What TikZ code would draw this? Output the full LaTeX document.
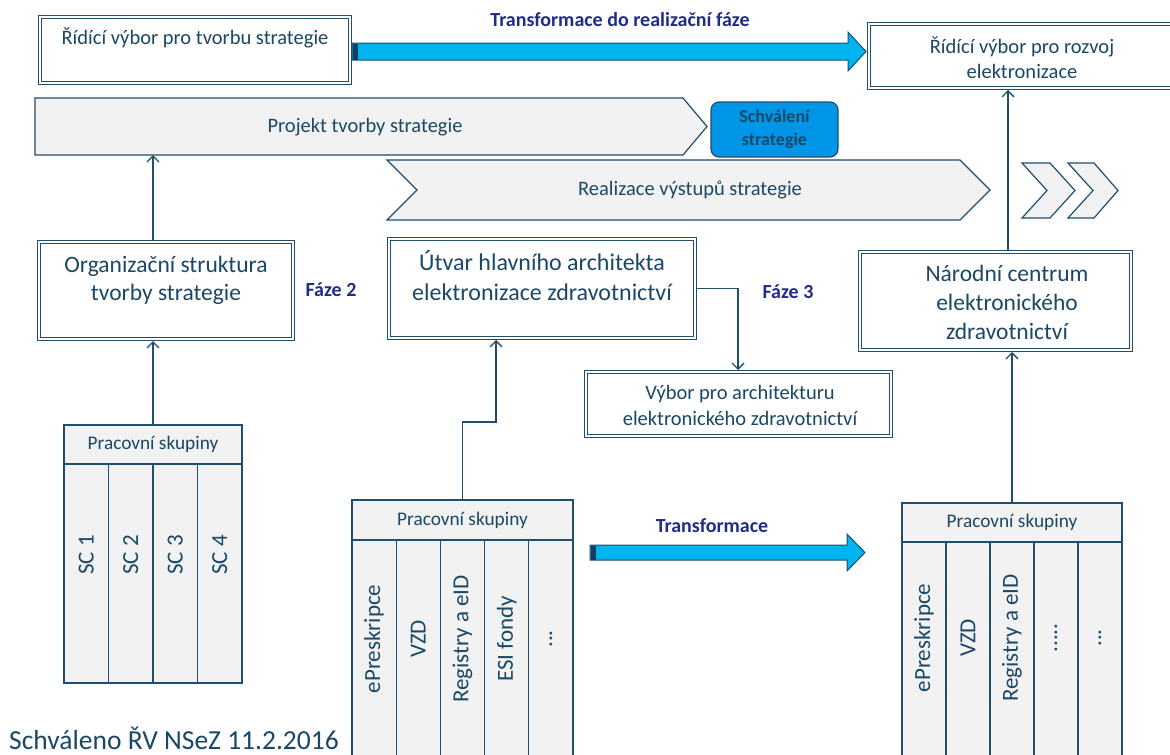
\documentclass[tikz,border=0pt]{standalone}
\usepackage{fontspec}
\setmainfont{Carlito}
\usetikzlibrary{arrows.meta,calc}
\definecolor{ln}{RGB}{31,78,110}
\definecolor{tx}{RGB}{26,72,102}
\definecolor{navy}{RGB}{32,45,135}
\definecolor{cyanar}{RGB}{0,180,240}
\definecolor{darkst}{RGB}{20,60,100}
\definecolor{schv}{RGB}{0,150,232}
\definecolor{grayf}{RGB}{242,242,242}
\newcommand\threedots{.{}.{}.}
\newcommand\fivedots{.{}.{}.{}.{}.}
\tikzset{
  dbox/.style={draw=ln, double=white, double distance=2pt, line width=1pt, inner sep=0pt, outer sep=2pt},
  btext/.style={text=tx, align=center, inner sep=0pt},
  conn/.style={draw=ln, line width=1.3pt, -{Straight Barb[length=6pt,width=12pt]}},
  lbl/.style={text=navy, font=\bfseries\fontsize{20}{24}\selectfont, inner sep=0pt},
  phase/.style={fill=grayf, draw=ln, line width=1.2pt, line join=miter},
  bigarrow/.style={fill=cyanar, draw=ln, line width=1pt},
  hdr/.style={fill=grayf, draw=ln, line width=1.2pt, inner sep=0pt, text=tx, font=\fontsize{19.3}{22}\selectfont},
  colbox/.style={fill=grayf, draw=ln, line width=1.2pt, inner sep=0pt},
  coltext/.style={rotate=90, text=tx, inner sep=0pt, font=\fontsize{23}{26}\selectfont}
}
\begin{document}
\begin{tikzpicture}[x=1pt,y=-1pt]
\clip (0,0) rectangle (1170,755);
\fill[white] (0,0) rectangle (1170,755);

% ---- top boxes
\node[dbox, minimum width=310pt, minimum height=66pt] (rv1) at (195,50) {};
\node[btext, font=\fontsize{20.5}{25}\selectfont] (rv1t) at (195,38) {Řídící výbor pro tvorbu strategie};
\node[dbox, minimum width=306pt, minimum height=64pt] (rv2) at (1022,56) {};
\node[btext, font=\fontsize{20.5}{25}\selectfont] (rv2t) at (1022,57.5) {Řídící výbor pro rozvoj\\elektronizace};

% ---- big arrow 1
\draw[bigarrow] (352,43) -- (848,43) -- (848,32) -- (866,51.5) -- (848,71) -- (848,60) -- (352,60) -- cycle;
\fill[darkst] (352.5,43.5) rectangle (358,59.5);
\node[lbl] (t1) at (620,20) {Transformace do realizační fáze};

% ---- phase shapes
\draw[phase] (35,98) -- (683,98) -- (707,126.5) -- (683,155) -- (35,155) -- cycle;
\node[btext, font=\fontsize{20.5}{24}\selectfont] (proj) at (365,127) {Projekt tvorby strategie};
\coordinate (projS) at (153,155);
\node[draw=ln, line width=1.2pt, fill=schv, rounded corners=8pt, minimum width=127pt, minimum height=55pt, inner sep=0pt,
      text=tx, align=center, font=\bfseries\fontsize{18}{23}\selectfont] (schv) at (774.5,129.5) {Schválení\\strategie};
\draw[phase] (387,160) -- (960,160) -- (990,190) -- (960,220) -- (387,220) -- (417,190) -- cycle;
\node[btext, font=\fontsize{20.5}{24}\selectfont] (real) at (690,190) {Realizace výstupů strategie};
\draw[phase] (1022,163) -- (1050,163) -- (1075,190.5) -- (1050,218) -- (1022,218) -- (1047,190.5) -- cycle;
\draw[phase] (1068,163) -- (1094,163) -- (1118,190.5) -- (1094,218) -- (1068,218) -- (1093,190.5) -- cycle;

% ---- middle boxes
\node[dbox, minimum width=254pt, minimum height=97pt] (org) at (166,290.5) {};
\node[btext, font=\fontsize{23.5}{28}\selectfont] (orgt) at (166,280) {Organizační struktura\\tvorby strategie};
\node[lbl] (f2) at (331,290) {Fáze 2};

\node[dbox, minimum width=306pt, minimum height=99pt] (utvar) at (542,288.5) {};
\node[btext, font=\fontsize{24}{30}\selectfont] (utvart) at (542,276) {Útvar hlavního architekta\\elektronizace zdravotnictví};
\node[lbl] (f3) at (788,292) {Fáze 3};

\node[dbox, minimum width=305pt, minimum height=64pt] (vybor) at (738,404) {};
\node[btext, font=\fontsize{20.5}{26}\selectfont] (vybort) at (740,405) {Výbor pro architekturu\\elektronického zdravotnictví};

\node[dbox, minimum width=271pt, minimum height=98pt] (narodni) at (995.5,301) {};
\node[btext, font=\fontsize{23.5}{29}\selectfont] (narodnit) at (1007,302) {Národní centrum\\elektronického\\zdravotnictví};

% ---- left table
\node[hdr, minimum width=178pt, minimum height=39pt] (lh) at (153,444.5) {Pracovní skupiny};
\foreach \i/\t in {0/SC 1,1/SC 2,2/SC 3,3/SC 4}{
  \node[colbox, minimum width=44.5pt, minimum height=219pt] (lc\i) at ({86.25+44.5*\i},573.5) {};
  \node[coltext] (lct\i) at ({86.25+44.5*\i},555) {\t};
}

% ---- middle table
\node[hdr, minimum width=221pt, minimum height=40pt] (mh) at (462.5,520) {Pracovní skupiny};
\foreach \i/\t in {0/ePreskripce,1/VZD,2/Registry a eID,3/ESI fondy,4/\threedots}{
  \node[colbox, minimum width=44.2pt, minimum height=230pt] (mc\i) at ({374.1+44.2*\i},655) {};
  \node[coltext] (mct\i) at ({374.1+44.2*\i},639) {\t};
}

% ---- right table
\node[hdr, minimum width=220pt, minimum height=39pt] (rh) at (1012,522.5) {Pracovní skupiny};
\foreach \i/\t in {0/ePreskripce,1/VZD,2/Registry a eID,3/\fivedots,4/\threedots}{
  \node[colbox, minimum width=44pt, minimum height=230pt] (rc\i) at ({924+44*\i},657) {};
  \node[coltext] (rct\i) at ({924+44*\i},638) {\t};
}

% ---- big arrow 2
\draw[bigarrow] (590,545) -- (847,545) -- (847,534) -- (865,552.5) -- (847,571) -- (847,560) -- (590,560) -- cycle;
\fill[darkst] (590.5,545.5) rectangle (596,559.5);
\node[lbl] (t2) at (712,526) {Transformace};

% ---- connectors
\draw[conn] (lh.north) -- (lh.north |- org.south);
\draw[conn] (lh.north |- org.north) -- (projS);
\draw[conn] (utvar.east) -| (vybor.north);
\coordinate (bend) at (496,422);
\draw[conn] (mh.north) |- (bend) -- (bend |- utvar.south);
\draw[conn] (rh.north) -- (rh.north |- narodni.south);
\coordinate (nctop) at ($(narodni.north)+(12.5,0)$);
\draw[conn] (nctop) -- (nctop |- rv2.south);

% ---- footer
\node[text=tx, anchor=west, inner sep=0pt, font=\fontsize{27.5}{31}\selectfont] (foot) at (9,738) {Schváleno ŘV NSeZ 11.2.2016};
\end{tikzpicture}
\end{document}
